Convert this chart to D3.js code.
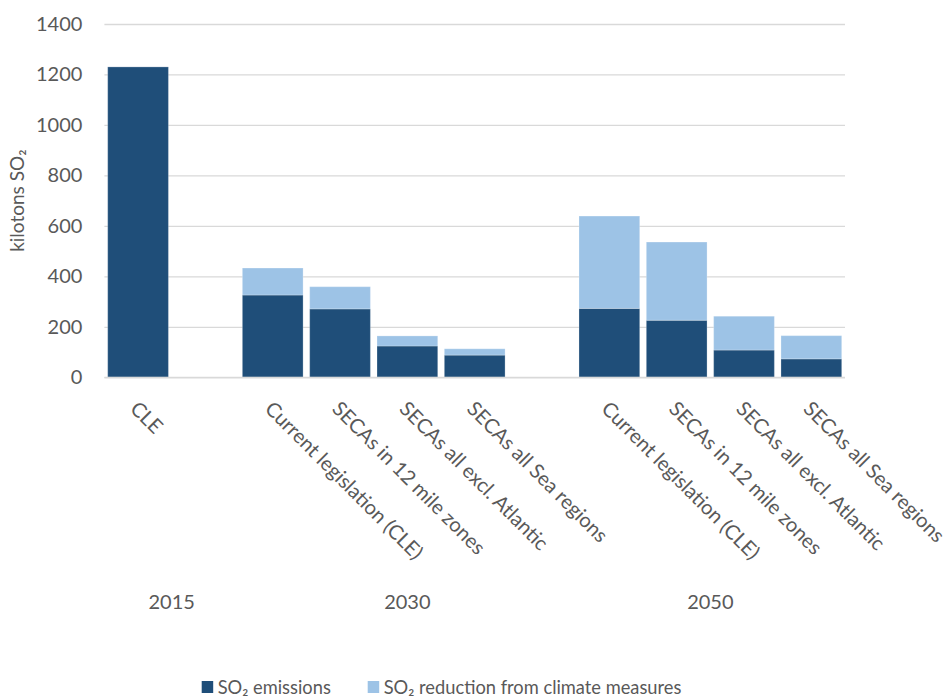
<!DOCTYPE html>
<html>
<head>
<meta charset="utf-8">
<script src="https://cdn.jsdelivr.net/npm/d3@7"></script>
<style>
  html, body { margin: 0; padding: 0; background: #fff; }
  svg text { font-family: Lato, "Open Sans", sans-serif; fill: #595959; }
</style>
</head>
<body>
<svg id="chart" width="951" height="698"></svg>
<script>
// Scenario slots along the x axis; empty strings are spacer slots between years
const slots = ["2015|CLE", "2015|", "2030|Current legislation (CLE)", "2030|SECAs in 12 mile zones",
  "2030|SECAs all excl. Atlantic", "2030|SECAs all Sea regions", "2030|",
  "2050|Current legislation (CLE)", "2050|SECAs in 12 mile zones",
  "2050|SECAs all excl. Atlantic", "2050|SECAs all Sea regions"];
const years = ["2015", "2030", "2050"];

// kilotons SO2 per slot (null for spacers)
const emissions = [1230, null, 326, 271, 124, 88, null, 273, 226, 108, 73];
const climateReduction = [0, null, 107, 88, 40, 25, null, 366, 310, 134, 92];

const yTicks = [0, 200, 400, 600, 800, 1000, 1200, 1400];
const seriesNames = ["SO\u2082 emissions", "SO\u2082 reduction from climate measures"];
const colors = ["#1F4E79", "#9DC3E6"];

const svg = d3.select("#chart");
const plot = { left: 104.4, right: 845, top: 24, bottom: 377.3 };

const x = d3.scaleBand().domain(slots).range([plot.left, plot.right])
  .paddingInner(0.098).paddingOuter(0.049);
const y = d3.scaleLinear().domain([0, 1400]).range([plot.bottom, plot.top]);

// gridlines + value axis
const yAxis = d3.axisLeft(y).tickValues(yTicks).tickFormat(d3.format("d"))
  .tickSize(-(plot.right - plot.left)).tickPadding(22);
const gy = svg.append("g").attr("transform", `translate(${plot.left},0)`).call(yAxis);
gy.select(".domain").remove();
gy.selectAll(".tick line").attr("stroke", "#d9d9d9").attr("stroke-width", 1.3);
gy.selectAll(".tick text").attr("font-size", 20).attr("fill", "#595959")
  .style("font-family", "Lato, sans-serif");

svg.append("text")
  .attr("transform", `translate(24,${(plot.top + plot.bottom) / 2}) rotate(-90)`)
  .attr("text-anchor", "middle").attr("font-size", 19)
  .text("kilotons SO\u2082");

// stacked bars
const rows = slots.map((s, i) => ({ slot: s, emissions: emissions[i], reduction: climateReduction[i] }))
  .filter(d => d.emissions !== null);
const stack = d3.stack().keys(["emissions", "reduction"])(rows);

svg.append("g").selectAll("g").data(stack).join("g")
  .attr("fill", (d, i) => colors[i])
  .selectAll("rect").data(d => d.filter(p => p[1] > p[0])).join("rect")
  .attr("x", d => x(d.data.slot))
  .attr("width", x.bandwidth())
  .attr("y", d => y(d[1]))
  .attr("height", d => y(d[0]) - y(d[1]))
  .attr("stroke", "rgba(255,255,255,0.25)")
  .attr("stroke-width", 1);

// baseline
svg.append("line").attr("x1", plot.left).attr("x2", plot.right)
  .attr("y1", y(0)).attr("y2", y(0)).attr("stroke", "#d9d9d9").attr("stroke-width", 1.3);

// rotated scenario labels
svg.append("g").selectAll("text").data(slots.filter(s => s.split("|")[1] !== "")).join("text")
  .attr("transform", s => `translate(${x(s) + x.bandwidth() / 2 - 9},410) rotate(45)`)
  .attr("font-size", 20.2)
  .text(s => s.split("|")[1]);

// year labels centred under their slot groups
svg.append("g").selectAll("text").data(years).join("text")
  .attr("x", yr => {
    const group = slots.filter(s => s.startsWith(yr + "|"));
    const a = x(group[0]) - x.step() * x.paddingInner() / 2;
    const b = x(group[group.length - 1]) + x.bandwidth() + x.step() * x.paddingInner() / 2;
    return (a + b) / 2;
  })
  .attr("y", 609).attr("text-anchor", "middle").attr("font-size", 20)
  .text(yr => yr);

// legend
const legendX = [201.7, 367.7];
const lg = svg.append("g").selectAll("g").data(seriesNames).join("g")
  .attr("transform", (d, i) => `translate(${legendX[i]},681)`);
lg.append("rect").attr("width", 11.5).attr("height", 12).attr("fill", (d, i) => colors[i]);
lg.append("text").attr("x", 16).attr("y", 12.5).attr("font-size", 18.3).text(d => d);
</script>
</body>
</html>
